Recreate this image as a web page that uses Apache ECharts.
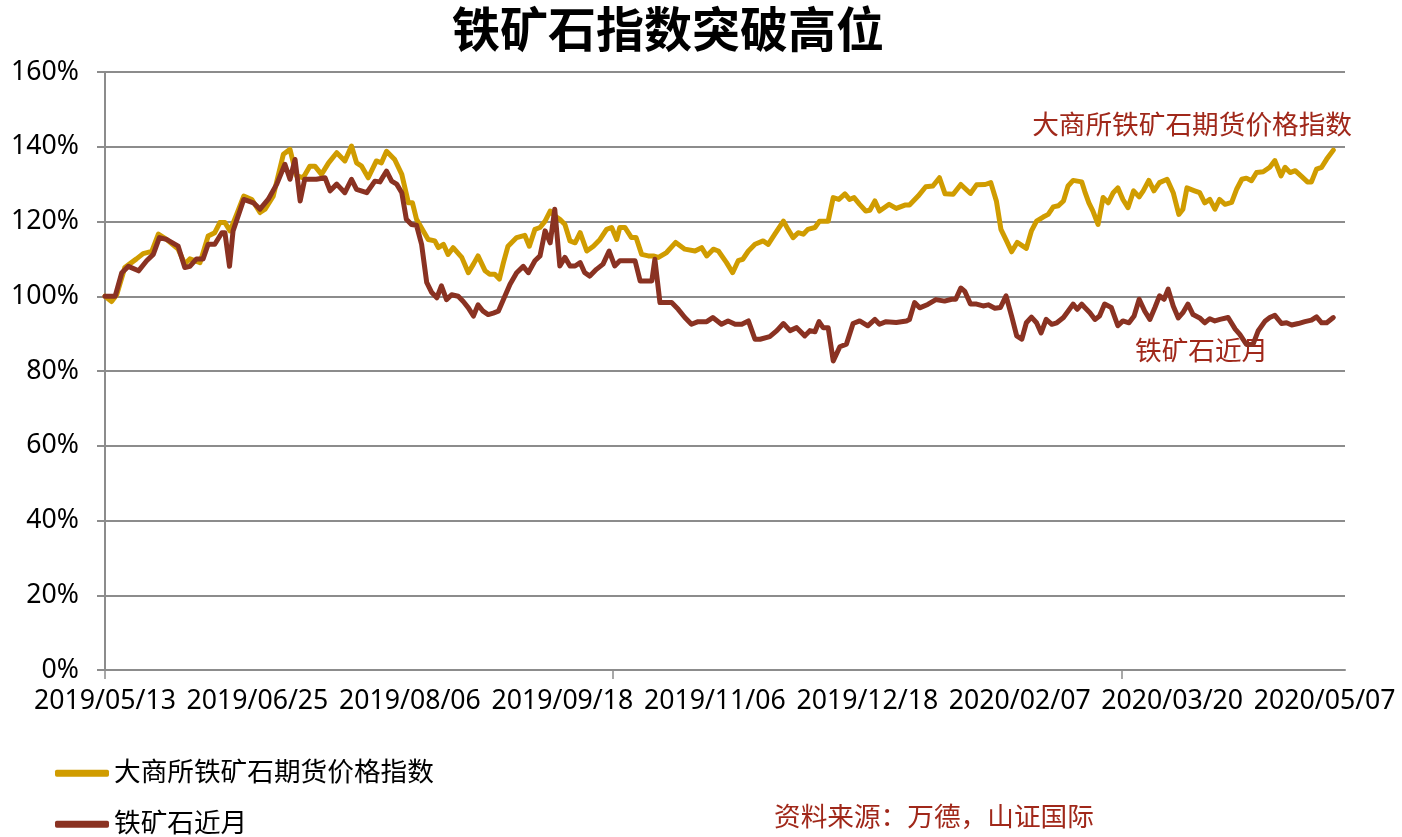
<!DOCTYPE html>
<html>
<head>
<meta charset="utf-8" />
<script src="https://cdn.jsdelivr.net/npm/echarts@6/dist/echarts.min.js"></script>
<title>铁矿石指数突破高位</title>
<style>
  html, body { margin: 0; padding: 0; background: #fff; }
  #main { width: 1402px; height: 837px; }
</style>
</head>
<body>
<div id="main"></div>
<script type="text/javascript">
// 横轴标签，每30个交易日一个
var dateLabels = ['2019/05/13', '2019/06/25', '2019/08/06', '2019/09/18', '2019/11/06',
  '2019/12/18', '2020/02/07', '2020/03/20', '2020/05/07'];

// 大商所铁矿石期货价格指数：交易日序号 / 数值(%)
var goldDays = [0, 1.3, 2.3, 3.9, 5.2, 6.2, 7.5, 9.2, 10.5, 12.1, 14.4, 15.7, 16.7, 18.7, 20.3, 21.6, 22.6, 23.6, 24.6, 25.9,
  27.3, 28.9, 30.5, 31.5, 33.1, 35.1, 36.4, 37.7, 39, 40.3, 41.3, 42.6, 44, 45.6, 47.2, 48.5, 49.5, 50.5, 51.8, 53.4,
  54.4, 55.4, 57, 58.4, 59.7, 60.5, 61.3, 62.6, 63.6, 64.9, 65.6, 66.6, 67.5, 68.5, 70.2, 71.5, 72.5, 73.4, 74.8, 75.7,
  76.7, 77.6, 78.4, 79.3, 81, 82.6, 83.5, 84.6, 85.6, 86.6, 87.6, 88.5, 89.5, 90.5, 91.5, 92.5, 93.5, 94.8, 96.1, 97.4,
  98.7, 99.7, 100.7, 101.3, 102.3, 103.6, 104.5, 105.6, 106.9, 107.9, 108.9, 110.5, 112.3, 114.1, 116.1, 117.4, 118.4, 119.7, 120.7, 122.3,
  123.5, 124.6, 125.5, 126.6, 127.9, 129.5, 130.5, 131.8, 133.5, 134.4, 135.4, 136.4, 137.4, 138.3, 139.7, 140.6, 142.3, 143.3, 144.4, 145.6,
  146.5, 147.4, 148.5, 149.7, 150.5, 151.5, 152.4, 154.3, 155.7, 157.4, 158.3, 160, 161.5, 162.9, 164.2, 165.3, 166.9, 168.4, 170.3, 171.5,
  173.2, 174.3, 175.4, 176.3, 177.4, 178.4, 179.5, 181.3, 182.3, 183.3, 184.6, 185.6, 186.6, 187.6, 188.6, 189.5, 190.5, 192.2, 192.8, 193.6,
  194.4, 195.4, 196.4, 197.4, 198.4, 199.3, 200.3, 201.3, 202.4, 203.5, 204.3, 205.4, 206.4, 207.5, 209, 210.2, 211.3, 212.1, 212.9, 214.4,
  215.4, 216.4, 217.4, 218.4, 219.3, 220.4, 221.7, 222.7, 223.7, 224.6, 225.6, 226.6, 227.9, 229.2, 230.2, 231.4, 232.2, 233.2, 234.2, 235.5,
  236.6, 237.4, 238.4, 239.4, 240.4, 241.7];
var goldVals = [100, 98.6, 100.4, 107.7, 109, 110, 111.4, 112, 116.6, 115.2, 112.6, 108.6, 110, 109, 116.1, 117, 119.7, 119.7, 117.5, 121.9,
  126.8, 125.9, 122.4, 123.3, 126.8, 138, 139.3, 132.2, 131.7, 134.8, 134.8, 132.6, 135.7, 138.4, 136.2, 140.2, 135.7, 134.8, 131.7, 136.2,
  135.7, 138.8, 136.6, 132.6, 125, 125, 120.6, 117.5, 115.2, 114.8, 113, 113.9, 111.2, 113, 110.4, 106.3, 108.6, 110.8, 106.8, 105.9,
  105.9, 104.6, 109, 113.4, 115.7, 116.3, 113.4, 117.9, 118.4, 120.1, 122.8, 121.5, 120.6, 119.2, 114.8, 114.3, 117, 112.1, 113.4, 115.2,
  117.9, 118.4, 115.2, 118.4, 118.4, 115.7, 115.7, 111.2, 110.8, 110.8, 110.4, 111.7, 114.4, 112.6, 112.1, 113, 110.8, 112.6, 112.1, 109,
  106.3, 109.5, 109.9, 112.1, 113.9, 114.8, 113.9, 116.6, 120.1, 117.9, 115.7, 117, 116.6, 117.9, 118.4, 120.1, 120.1, 126.4, 125.9, 127.4,
  125.9, 126.4, 124.6, 122.8, 123, 125.5, 122.8, 124.6, 123.5, 124.4, 124.4, 126.8, 129.3, 129.5, 131.7, 127.4, 127.3, 129.9, 127.5, 129.8,
  129.9, 130.4, 125.5, 117.9, 114.8, 111.9, 114.4, 112.8, 117.5, 120.1, 121.2, 121.9, 123.9, 124.2, 125.5, 129.5, 131, 130.6, 128, 125,
  122.8, 119.2, 126.4, 125, 127.7, 129, 125.9, 123.7, 128.2, 126.6, 128.2, 131, 128.2, 130.4, 131.3, 127.7, 121.9, 123.3, 129, 128.2,
  127.7, 125, 125.9, 123.3, 125.9, 124.6, 125.1, 128.7, 131.3, 131.6, 130.9, 133.1, 133.3, 134.5, 136.3, 132.2, 134.5, 133.1, 133.6, 132,
  130.6, 130.6, 134, 134.5, 136.7, 139.1];

// 铁矿石近月：交易日序号 / 数值(%)
var nearDays = [0, 2, 3.3, 4.6, 6.6, 8.2, 9.5, 10.7, 12.1, 14.4, 15.7, 16.7, 18, 19.3, 20.3, 21.6, 23, 23.6, 24.5, 25.2,
  27.3, 29.2, 30.5, 32.1, 33.8, 35.4, 36.4, 37.4, 38.4, 39.3, 41.6, 43.3, 44.3, 45.6, 47.2, 48.5, 49.5, 51.5, 53.1, 54.1,
  55.4, 56.4, 57.4, 58.4, 59.3, 60.3, 61.3, 62.3, 63.3, 64.3, 65.3, 66.2, 67.2, 68.2, 69.5, 70.5, 71.5, 72.5, 73.4, 74.4,
  75.4, 76.4, 77.4, 78.4, 79.7, 81, 82.3, 83.3, 84.6, 85.6, 86.6, 87.6, 88.5, 89.5, 90.5, 91.5, 92.5, 93.5, 94.4, 95.4,
  96.7, 98, 99.2, 100.3, 101.3, 102.6, 104.3, 105.3, 107.6, 108.2, 109.2, 111.5, 112.8, 114.1, 115.4, 116.7, 118.4, 119.6, 121.3, 122.6,
  124, 125.3, 126.6, 127.9, 128.9, 130.8, 132.2, 133.5, 134.8, 136.1, 137.7, 138.7, 139.7, 140.5, 141.3, 142.3, 143.3, 144.6, 145.9, 147.2,
  148.5, 150.1, 151.5, 152.4, 153.7, 155.7, 157.7, 158.3, 159.3, 160.3, 161.9, 163.5, 165.2, 166.6, 167.4, 168.4, 169.2, 170.3, 171.5, 172.8,
  173.8, 175.1, 176.2, 177.3, 178.4, 179.4, 180.4, 181.3, 182.3, 183.3, 184.2, 185.2, 186.3, 187.3, 188.6, 189.5, 190.5, 191.3, 192.2, 192.8,
  193.8, 194.8, 195.7, 196.7, 198, 199.3, 200.3, 201.5, 202.5, 203.5, 204.6, 205.6, 206.6, 207.5, 208.4, 209.2, 210.2, 211.2, 212.1, 213.1,
  214.1, 215.4, 216.4, 217.4, 218.4, 219.4, 221, 222.4, 223.3, 224.6, 225.9, 226.9, 228.3, 229.2, 230.2, 231.5, 232.5, 233.5, 234.8, 236.1,
  237.4, 238.4, 239.4, 240.4, 241.7];
var nearVals = [100, 100, 106.3, 108, 106.8, 109.5, 111.2, 115.7, 115.2, 113.4, 107.7, 108, 110, 110, 113.9, 113.9, 117, 117, 108, 117.5,
  125.9, 125, 123.3, 125.9, 130, 135.3, 131.3, 136.6, 125.5, 131.3, 131.3, 131.7, 128.2, 130, 127.7, 131.3, 128.6, 127.7, 130.8, 130.6,
  133.5, 130.8, 130, 127.7, 120.6, 119.2, 119, 113.9, 103.7, 101, 99.6, 102.8, 99.1, 100.4, 100, 98.6, 96.9, 94.7, 97.7, 96,
  95.1, 95.5, 96, 99.1, 103.2, 106.3, 108, 106.3, 109.5, 110.8, 117.5, 114.3, 123.3, 108.1, 110.4, 108.1, 108.1, 109, 106.3, 105.4,
  107.2, 108.6, 112.1, 108.1, 109.5, 109.5, 109.5, 104.1, 104.1, 109.9, 98.3, 98.3, 96.5, 94.3, 92.5, 93.2, 93.2, 94.3, 92.5, 93.4,
  92.5, 92.5, 93.4, 88.5, 88.5, 89.2, 90.8, 92.7, 90.8, 91.6, 89.4, 90.8, 90.5, 93.2, 91.6, 91.6, 82.7, 86.5, 87.2, 92.7,
  93.4, 92.1, 93.8, 92.5, 93.2, 93, 93.4, 93.8, 98.3, 96.9, 97.8, 99.1, 98.7, 99.2, 99.2, 102.2, 101.3, 97.9, 97.9, 97.4,
  97.7, 96.8, 97, 100.1, 94.7, 89.4, 88.5, 92.9, 94.4, 92.9, 90.2, 93.8, 92.5, 92.9, 94.3, 96, 97.9, 96.5, 97.9, 97,
  95.6, 93.8, 94.7, 97.9, 97, 92.1, 93.4, 92.9, 94.7, 99.2, 96, 93.8, 97, 100.1, 99.2, 101.9, 97.4, 94.2, 95.6, 97.9,
  95.1, 94.2, 92.9, 94, 93.4, 93.8, 94.3, 91.2, 89.8, 87.1, 87.1, 90.7, 93.4, 94.3, 94.9, 92.7, 92.9, 92.3, 92.7, 93.2,
  93.6, 94.5, 92.9, 92.9, 94.3];

var goldName = '大商所铁矿石期货价格指数';
var nearName = '铁矿石近月';

function zip(a, b) {
  var out = [];
  for (var i = 0; i < a.length; i++) out.push([a[i], b[i]]);
  return out;
}

var FONT = '"Noto Sans", "Noto Sans CJK SC", sans-serif';
var GOLD = '#D09C00';
var BROWN = '#8A3222';
var RED_TEXT = '#A0281A';

var labelDays = [];
for (var k = 0; k < dateLabels.length; k++) labelDays.push(k * 30);

// 图例两行竖排，分成两个组件避免换列
function legendItem(name, top) {
  return {
    left: 55,
    top: top,
    padding: 0,
    itemWidth: 54,
    itemHeight: 7,
    icon: 'roundRect',
    textStyle: { fontFamily: FONT, fontSize: 26.67, color: '#000' },
    data: [name]
  };
}

var myChart = echarts.init(document.getElementById('main'));
var option = {
  backgroundColor: '#fff',
  animation: false,
  title: {
    text: '铁矿石指数突破高位',
    left: 452,
    top: 9,
    padding: 0,
    textStyle: { fontFamily: FONT, fontSize: 48, fontWeight: 'bold', color: '#000' }
  },
  legend: [legendItem(goldName, 760), legendItem(nearName, 811)],
  grid: { left: 105, right: 57, top: 72, bottom: 167, containLabel: false },
  xAxis: {
    type: 'value',
    min: 0,
    max: 244,
    axisLine: { show: true, lineStyle: { color: '#8c8c8c', width: 2 } },
    axisTick: { show: true, length: 9, customValues: [0, 100, 200], lineStyle: { color: '#8c8c8c', width: 1.5 } },
    splitLine: { show: false },
    axisLabel: {
      customValues: labelDays,
      margin: 18,
      fontFamily: FONT,
      fontSize: 26.67,
      color: '#000',
      formatter: function (v) {
        var i = Math.round(v / 30);
        return dateLabels[i] || '';
      }
    }
  },
  yAxis: {
    type: 'value',
    min: 0,
    max: 160,
    interval: 20,
    axisLine: { show: true, lineStyle: { color: '#8c8c8c', width: 2 } },
    axisTick: { show: true, length: 8, lineStyle: { color: '#8c8c8c', width: 2 } },
    splitLine: { show: true, lineStyle: { color: '#8c8c8c', width: 2 } },
    axisLabel: { margin: 26, fontFamily: FONT, fontSize: 26.67, color: '#000', formatter: '{value}%' }
  },
  graphic: [
    { type: 'text', x: 1352, y: 126, style: { text: goldName, fill: RED_TEXT, font: '26.67px ' + FONT, textAlign: 'right', textVerticalAlign: 'middle' } },
    { type: 'text', x: 1135, y: 352, style: { text: nearName, fill: RED_TEXT, font: '26.67px ' + FONT, textAlign: 'left', textVerticalAlign: 'middle' } },
    { type: 'text', x: 774, y: 818, style: { text: '资料来源：万德，山证国际', fill: RED_TEXT, font: '26.67px ' + FONT, textAlign: 'left', textVerticalAlign: 'middle' } }
  ],
  series: [
    {
      name: goldName,
      type: 'line',
      showSymbol: false,
      symbol: 'none',
      itemStyle: { color: GOLD },
      lineStyle: { color: GOLD, width: 5, join: 'round', cap: 'round' },
      data: zip(goldDays, goldVals)
    },
    {
      name: nearName,
      type: 'line',
      showSymbol: false,
      symbol: 'none',
      itemStyle: { color: BROWN },
      lineStyle: { color: BROWN, width: 5, join: 'round', cap: 'round' },
      data: zip(nearDays, nearVals)
    }
  ]
};
myChart.setOption(option);
</script>
</body>
</html>
